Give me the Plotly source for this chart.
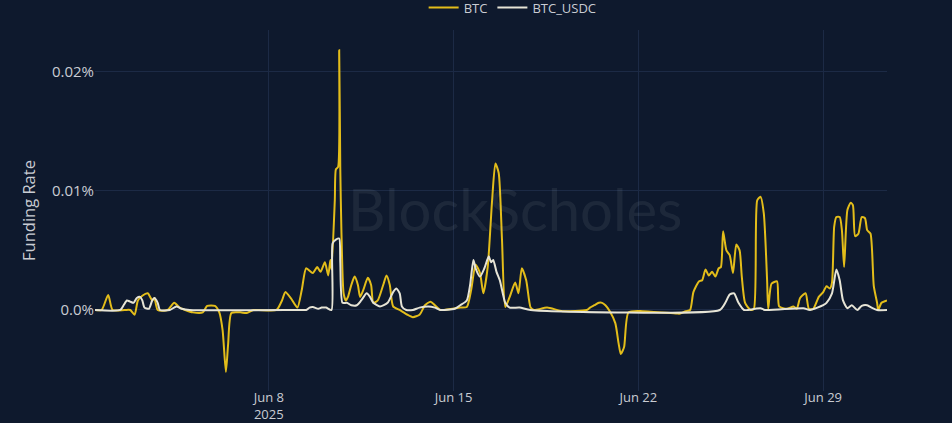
import plotly.graph_objects as go

# ---- data (funding rate in percent units) ----
btc_time = [
    "2025-06-01 10:00", "2025-06-01 16:00", "2025-06-01 22:00", "2025-06-02 02:00", "2025-06-02 13:00",
    "2025-06-02 18:00", "2025-06-02 22:00", "2025-06-03 01:00", "2025-06-03 05:00", "2025-06-03 10:00",
    "2025-06-03 14:00", "2025-06-03 16:00", "2025-06-03 19:00", "2025-06-04 04:00", "2025-06-04 10:00",
    "2025-06-04 15:00", "2025-06-04 20:00", "2025-06-05 03:00", "2025-06-05 12:00", "2025-06-05 16:00",
    "2025-06-05 23:00", "2025-06-06 03:00", "2025-06-06 06:00", "2025-06-06 09:00", "2025-06-06 11:00",
    "2025-06-06 14:00", "2025-06-06 22:00", "2025-06-07 04:00", "2025-06-07 10:00", "2025-06-08 07:00",
    "2025-06-08 12:00", "2025-06-08 15:00", "2025-06-08 20:00", "2025-06-09 02:00", "2025-06-09 06:00",
    "2025-06-09 10:00", "2025-06-09 16:00", "2025-06-09 20:00", "2025-06-09 23:00", "2025-06-10 03:00",
    "2025-06-10 06:00", "2025-06-10 08:00", "2025-06-10 09:00", "2025-06-10 12:00", "2025-06-10 13:00",
    "2025-06-10 15:00", "2025-06-10 16:00", "2025-06-10 17:00", "2025-06-10 18:00", "2025-06-10 20:00",
    "2025-06-10 22:00", "2025-06-11 00:00", "2025-06-11 03:00", "2025-06-11 06:00", "2025-06-11 09:00",
    "2025-06-11 11:00", "2025-06-11 14:00", "2025-06-11 18:00", "2025-06-11 21:00", "2025-06-11 23:00",
    "2025-06-12 03:00", "2025-06-12 08:00", "2025-06-12 11:00", "2025-06-12 14:00", "2025-06-12 17:00",
    "2025-06-12 23:00", "2025-06-13 06:00", "2025-06-13 11:00", "2025-06-13 17:00", "2025-06-13 22:00",
    "2025-06-14 03:00", "2025-06-14 07:00", "2025-06-14 12:00", "2025-06-15 06:00", "2025-06-15 12:00",
    "2025-06-15 16:00", "2025-06-15 20:00", "2025-06-16 00:00", "2025-06-16 03:00", "2025-06-16 07:00",
    "2025-06-16 11:00", "2025-06-16 14:00", "2025-06-16 17:00", "2025-06-16 20:00", "2025-06-16 23:00",
    "2025-06-17 03:00", "2025-06-17 08:00", "2025-06-17 11:00", "2025-06-17 14:00", "2025-06-17 18:00",
    "2025-06-17 22:00", "2025-06-18 01:00", "2025-06-18 13:00", "2025-06-19 03:00", "2025-06-20 01:00",
    "2025-06-20 04:00", "2025-06-20 08:00", "2025-06-20 12:00", "2025-06-20 15:00", "2025-06-20 18:00",
    "2025-06-20 22:00", "2025-06-21 03:00", "2025-06-21 06:00", "2025-06-21 08:00", "2025-06-21 11:00",
    "2025-06-21 15:00", "2025-06-22 04:00", "2025-06-23 11:00", "2025-06-23 14:00", "2025-06-23 19:00",
    "2025-06-23 23:00", "2025-06-24 02:00", "2025-06-24 07:00", "2025-06-24 10:00", "2025-06-24 13:00",
    "2025-06-24 16:00", "2025-06-24 19:00", "2025-06-24 22:00", "2025-06-25 01:00", "2025-06-25 03:00",
    "2025-06-25 05:00", "2025-06-25 08:00", "2025-06-25 11:00", "2025-06-25 14:00", "2025-06-25 17:00",
    "2025-06-25 20:00", "2025-06-25 22:00", "2025-06-26 01:00", "2025-06-26 06:00", "2025-06-26 09:00",
    "2025-06-26 12:00", "2025-06-26 15:00", "2025-06-26 18:00", "2025-06-26 21:00", "2025-06-26 22:00",
    "2025-06-27 01:00", "2025-06-27 06:00", "2025-06-27 08:00", "2025-06-27 15:00", "2025-06-27 21:00",
    "2025-06-28 00:00", "2025-06-28 03:00", "2025-06-28 08:00", "2025-06-28 11:00", "2025-06-28 15:00",
    "2025-06-28 20:00", "2025-06-29 00:00", "2025-06-29 03:00", "2025-06-29 06:00", "2025-06-29 08:00",
    "2025-06-29 10:00", "2025-06-29 12:00", "2025-06-29 15:00", "2025-06-29 17:00", "2025-06-29 19:00",
    "2025-06-29 22:00", "2025-06-30 01:00", "2025-06-30 03:00", "2025-06-30 05:00", "2025-06-30 08:00",
    "2025-06-30 11:00", "2025-06-30 14:00", "2025-06-30 16:00", "2025-06-30 19:00", "2025-06-30 22:00",
    "2025-07-01 01:00", "2025-07-01 02:00", "2025-07-01 05:00", "2025-07-01 10:00",
]
btc_rate = [
    0.0, 0.0, 0.00126, 0.0, 0.0,
    0.0, -0.0004, 0.0008, 0.0012, 0.0014,
    0.0008, 0.001, 0.0, 0.0, 0.0006,
    0.0002, 0.0, -0.0002, -0.0002, 0.00034,
    0.00034, -0.0002, -0.0017, -0.0052, -0.0029,
    -0.00025, -0.0002, -0.00025, 0.0, 0.0,
    0.0008, 0.0015, 0.001, 0.0002, 0.0017,
    0.0035, 0.0031, 0.0036, 0.0032, 0.004,
    0.0029, 0.0042, 0.0034, 0.0092, 0.0118,
    0.012, 0.0218, 0.0118, 0.0067, 0.0014,
    0.0008, 0.0011, 0.0021, 0.0028, 0.0021,
    0.0011, 0.0017, 0.0027, 0.0021, 0.0006,
    0.0008, 0.0021, 0.0029, 0.0021, 0.0003,
    0.0, -0.0004, -0.0006, -0.0004, 0.0004,
    0.0007, 0.0004, 0.0, 0.0002, 0.00025,
    0.0017, 0.0038, 0.0031, 0.0014, 0.0036,
    0.0092, 0.0123, 0.0115, 0.0059, 0.00025,
    0.0011, 0.0023, 0.0014, 0.0035, 0.0025,
    0.0002, 0.0, 0.0002, -0.0001, 0.0,
    0.0002, 0.0004, 0.0006, 0.0006, 0.0004,
    -0.0001, -0.0011, -0.0028, -0.0037, -0.0031,
    -0.0002, -0.0001, -0.0003, -0.0003, -0.0001,
    0.0, 0.0015, 0.0024, 0.0025, 0.0034,
    0.0029, 0.0032, 0.0028, 0.0035, 0.0036,
    0.0066, 0.005, 0.0046, 0.0031, 0.0055,
    0.005, 0.0028, 0.0006, 0.0, 0.0001,
    0.0092, 0.0095, 0.0081, 0.0025, 0.0001,
    0.0022, 0.0024, 0.0003, 0.0001, 0.0003,
    0.0001, 0.001, 0.0014, 0.0001, 0.0001,
    0.0011, 0.0015, 0.002, 0.0018, 0.0023,
    0.007, 0.0078, 0.0078, 0.0067, 0.0036,
    0.0084, 0.009, 0.0088, 0.0062, 0.0064,
    0.0078, 0.0077, 0.0067, 0.0064, 0.002,
    0.0006, 0.0, 0.0006, 0.0008,
]

usdc_time = [
    "2025-06-01 10:00", "2025-06-02 09:00", "2025-06-02 12:00", "2025-06-02 15:00", "2025-06-02 18:00",
    "2025-06-02 21:00", "2025-06-03 00:00", "2025-06-03 03:00", "2025-06-03 05:00", "2025-06-03 07:00",
    "2025-06-03 11:00", "2025-06-03 14:00", "2025-06-03 16:00", "2025-06-03 19:00", "2025-06-03 21:00",
    "2025-06-04 06:00", "2025-06-04 12:00", "2025-06-04 17:00", "2025-06-05 00:00", "2025-06-09 04:00",
    "2025-06-09 10:00", "2025-06-09 13:00", "2025-06-09 16:00", "2025-06-09 21:00", "2025-06-10 00:00",
    "2025-06-10 04:00", "2025-06-10 09:00", "2025-06-10 10:00", "2025-06-10 13:00", "2025-06-10 16:00",
    "2025-06-10 17:00", "2025-06-10 19:00", "2025-06-10 23:00", "2025-06-11 03:00", "2025-06-11 08:00",
    "2025-06-11 12:00", "2025-06-11 17:00", "2025-06-11 20:00", "2025-06-11 23:00", "2025-06-12 05:00",
    "2025-06-12 12:00", "2025-06-12 17:00", "2025-06-12 20:00", "2025-06-12 23:00", "2025-06-13 01:00",
    "2025-06-13 05:00", "2025-06-13 11:00", "2025-06-13 17:00", "2025-06-14 01:00", "2025-06-14 07:00",
    "2025-06-14 12:00", "2025-06-15 01:00", "2025-06-15 06:00", "2025-06-15 12:00", "2025-06-15 15:00",
    "2025-06-15 18:00", "2025-06-15 20:00", "2025-06-16 00:00", "2025-06-16 04:00", "2025-06-16 08:00",
    "2025-06-16 10:00", "2025-06-16 12:00", "2025-06-16 15:00", "2025-06-16 18:00", "2025-06-16 23:00",
    "2025-06-17 03:00", "2025-06-17 12:00", "2025-06-17 22:00", "2025-06-25 02:00", "2025-06-25 07:00",
    "2025-06-25 11:00", "2025-06-25 15:00", "2025-06-25 19:00", "2025-06-26 00:00", "2025-06-26 10:00",
    "2025-06-26 15:00", "2025-06-26 19:00", "2025-06-28 06:00", "2025-06-28 12:00", "2025-06-29 00:00",
    "2025-06-29 03:00", "2025-06-29 08:00", "2025-06-29 12:00", "2025-06-29 15:00", "2025-06-29 18:00",
    "2025-06-29 22:00", "2025-06-30 02:00", "2025-06-30 07:00", "2025-06-30 11:00", "2025-06-30 16:00",
    "2025-06-30 20:00", "2025-07-01 01:00", "2025-07-01 10:00",
]
usdc_rate = [
    0.0, 0.0, 0.0004, 0.0008, 0.0007,
    0.0006, 0.001, 0.0011, 0.0008, 0.0002,
    0.0001, 0.0008, 0.001, 0.0006, 0.0,
    0.0, 0.0003, 0.0001, 0.0, 0.0,
    0.0, 0.0002, 0.00025, 0.0001, 0.0002,
    0.0002, 0.0, 0.0056, 0.0059, 0.006,
    0.004, 0.0006, 0.0006, 0.0004, 0.0004,
    0.0008, 0.0014, 0.0011, 0.0006, 0.0003,
    0.0006, 0.0015, 0.0018, 0.0014, 0.0003,
    0.0, 0.0, 0.0002, 0.0003, 0.0002,
    0.0, 0.0001, 0.0004, 0.0008, 0.0021,
    0.0042, 0.0035, 0.0028, 0.0035, 0.0045,
    0.004, 0.0042, 0.0032, 0.0025, 0.0006,
    0.0002, 0.0002, 0.0, 0.0, 0.0006,
    0.0013, 0.0014, 0.0006, 0.0, 0.0001,
    0.00015, 0.0, 0.00015, 0.0, 0.0004,
    0.0006, 0.0014, 0.0034, 0.0025, 0.0008,
    0.00015, 0.0004, 0.0, 0.00035, 0.0004,
    0.0002, 0.0, 0.0,
]

y_tick_vals = [0.0, 0.01, 0.02]
y_tick_text = ["0.0%", "0.01%", "0.02%"]

BG = "#0e192d"
GRID = "#1c2a45"
TXT = "#c9ccd3"

fig = go.Figure()
fig.add_trace(go.Scatter(
    x=btc_time, y=btc_rate, name="BTC", mode="lines",
    line=dict(color="#e3bd1a", width=2, shape="spline", smoothing=0.6),
))
fig.add_trace(go.Scatter(
    x=usdc_time, y=usdc_rate, name="BTC_USDC", mode="lines",
    line=dict(color="#e6e4d6", width=2, shape="spline", smoothing=0.6),
))

fig.add_annotation(
    text="BlockScholes", xref="paper", yref="paper", x=0.53, y=0.505,
    xanchor="center", yanchor="middle", showarrow=False,
    font=dict(family="Lato", size=58, color="rgba(190,195,205,0.09)"),
)

fig.update_layout(
    width=952, height=423,
    margin=dict(l=95, r=65, t=30, b=32, autoexpand=False),
    paper_bgcolor=BG, plot_bgcolor=BG,
    font=dict(family="Open Sans", color=TXT, size=13),
    showlegend=True,
    legend=dict(orientation="h", xref="container", yref="container",
                x=0.445, xanchor="left", y=0.982, yanchor="middle",
                font=dict(size=13, color=TXT), bgcolor="rgba(0,0,0,0)",
                itemwidth=30),
    xaxis=dict(
        type="date", range=["2025-06-01 10:00", "2025-07-01 10:00"],
        tick0="2025-06-08", dtick=7 * 86400000,
        showgrid=True, gridcolor=GRID, gridwidth=1, automargin=False,
        zeroline=False, showline=False, ticks="",
        ticklabelstandoff=-3,
        tickfont=dict(size=13, color=TXT),
    ),
    yaxis=dict(
        range=[-0.0068, 0.0235], automargin=False,
        tickvals=y_tick_vals, ticktext=y_tick_text,
        showgrid=True, gridcolor=GRID, gridwidth=1,
        zeroline=False, showline=False, ticks="",
        tickfont=dict(size=15, color=TXT),
        title=dict(text="Funding Rate", font=dict(size=16.5, color=TXT), standoff=12),
    ),
)

fig.write_html(
    "out.html",
    config={"displayModeBar": False},
    post_script="document.body.style.margin='0';document.body.style.background='#0e192d';",
)
